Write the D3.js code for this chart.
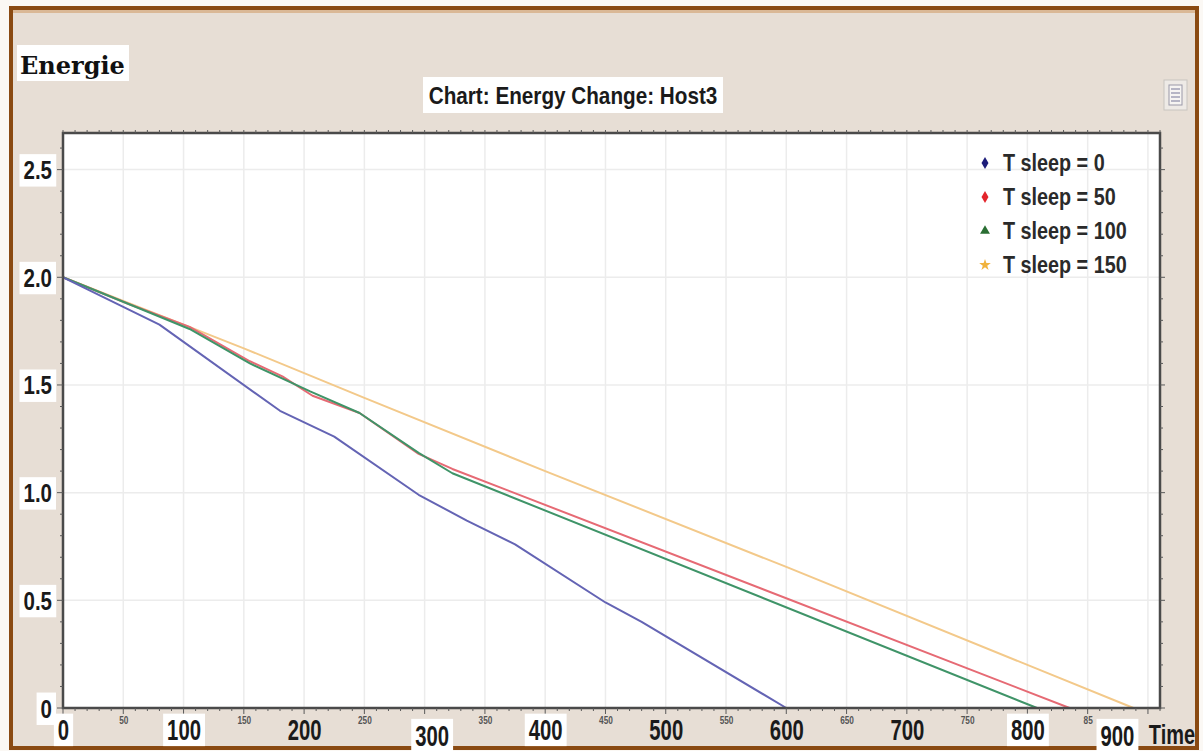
<!DOCTYPE html>
<html>
<head>
<meta charset="utf-8">
<script src="https://cdn.jsdelivr.net/npm/d3@7/dist/d3.min.js"></script>
<style>
  html, body { margin: 0; padding: 0; background: #fff; }
  svg { display: block; }
  .cond { font-family: "Liberation Sans", Arial, sans-serif; font-weight: bold; }
</style>
</head>
<body>
<svg id="chart" width="1203" height="751"></svg>
<script>
// Energy remaining per host over simulated time, one series per sleep period
const seriesNames = ["T sleep = 0", "T sleep = 50", "T sleep = 100", "T sleep = 150"];
const seriesColors = ["#6464b4", "#e66a74", "#3f9468", "#f3c98a"];
const markerColors = ["#1c1c7a", "#e3242b", "#2a6e33", "#f0b23c"];

const timeSleep0 = [0, 80, 180, 225, 295, 335, 375, 450, 480, 600];
const energySleep0 = [2.0, 1.78, 1.38, 1.26, 0.99, 0.87, 0.76, 0.49, 0.40, 0];

const timeSleep50 = [0, 55, 105, 155, 182, 207, 246, 295, 323, 835];
const energySleep50 = [2.0, 1.875, 1.77, 1.61, 1.54, 1.45, 1.37, 1.18, 1.11, 0];

const timeSleep100 = [0, 55, 105, 155, 205, 246, 295, 323, 808];
const energySleep100 = [2.0, 1.875, 1.76, 1.60, 1.47, 1.37, 1.185, 1.09, 0];

const timeSleep150 = [0, 100, 150, 250, 400, 600, 888];
const energySleep150 = [2.0, 1.78, 1.67, 1.44, 1.10, 0.655, 0];

const yTickValues = [0, 0.5, 1.0, 1.5, 2.0, 2.5];
const yTickLabels = ["0", "0.5", "1.0", "1.5", "2.0", "2.5"];
const xMajorValues = [0, 100, 200, 300, 400, 500, 600, 700, 800, 900];
const xMajorLabels = ["0", "100", "200", "300", "400", "500", "600", "700", "800", "900"];
const xMinorValues = [50, 150, 250, 350, 450, 550, 650, 750, 850];
const xMinorLabels = ["50", "150", "250", "350", "450", "550", "650", "750", "85"];

(function draw() {
  const svg = d3.select("#chart");
  const W = 1203, H = 751;
  const pL = 63, pR = 1160, pT = 133, pB = 708;

  const x = d3.scaleLinear().domain([0, 910]).range([pL, pR]);
  const y = d3.scaleLinear().domain([0, 2.67]).range([pB, pT]);

  // condensed bold text: horizontal squeeze applied around the text origin
  function condensed(sel, size, sx) {
    sel.attr("class", "cond").attr("font-size", size).attr("transform", `scale(${sx},1)`);
    return sel;
  }
  function boxBehind(g, text, sx, padX, padY, fill) {
    const b = text.node().getBBox();
    g.insert("rect", "text")
      .attr("x", b.x * sx - padX).attr("y", b.y - padY)
      .attr("width", b.width * sx + 2 * padX).attr("height", b.height + 2 * padY)
      .attr("fill", fill);
  }

  // page background and frame
  svg.append("rect").attr("width", W).attr("height", H).attr("fill", "#fbf8f4");
  svg.append("rect").attr("x", 11).attr("y", 8).attr("width", 1186).attr("height", 740)
    .attr("fill", "#e7ded5").attr("stroke", "#8a4a12").attr("stroke-width", 4);
  svg.append("rect").attr("x", 13).attr("y", 10).attr("width", 1182).attr("height", 3)
    .attr("fill", "#c98a4a").attr("opacity", 0.45);

  // "Energie" heading
  const energie = svg.append("g");
  energie.append("rect").attr("x", 17).attr("y", 45).attr("width", 112).attr("height", 36).attr("fill", "#fff");
  energie.append("text").attr("x", 20).attr("y", 74)
    .attr("font-family", "'DejaVu Serif', 'Liberation Serif', serif").attr("font-weight", "bold")
    .attr("font-size", 24).attr("fill", "#111").text("Energie");

  // chart title
  const title = svg.append("g").attr("transform", "translate(573,104)");
  title.append("rect").attr("x", -150).attr("y", -27).attr("width", 300).attr("height", 36).attr("fill", "#fff");
  condensed(title.append("text"), 23, 0.9).attr("text-anchor", "middle").attr("fill", "#1a1a1a")
    .text("Chart: Energy Change: Host3");

  // small menu icon
  const icon = svg.append("g");
  icon.append("rect").attr("x", 1164).attr("y", 80).attr("width", 23).attr("height", 30)
    .attr("fill", "#eeeae6").attr("stroke", "#c8c4c0");
  icon.append("rect").attr("x", 1169).attr("y", 85).attr("width", 13).attr("height", 20)
    .attr("fill", "#f6f4f2").attr("stroke", "#9a98a8");
  [89, 93, 97, 101].forEach(v => icon.append("line").attr("x1", 1171).attr("x2", 1180)
    .attr("y1", v).attr("y2", v).attr("stroke", "#8c8aa6").attr("stroke-width", 1.2));

  // plot area
  svg.append("rect").attr("x", pL).attr("y", pT).attr("width", pR - pL).attr("height", pB - pT)
    .attr("fill", "#fff");

  // grid
  const grid = svg.append("g");
  grid.selectAll("line.v").data(d3.range(50, 910, 50)).join("line").attr("class", "v")
    .attr("x1", d => x(d)).attr("x2", d => x(d)).attr("y1", pT).attr("y2", pB)
    .attr("stroke", "#ececec").attr("stroke-width", 1.5);
  grid.selectAll("line.h").data([0.5, 1.0, 1.5, 2.0, 2.5]).join("line").attr("class", "h")
    .attr("x1", pL).attr("x2", pR).attr("y1", d => y(d)).attr("y2", d => y(d))
    .attr("stroke", "#ececec").attr("stroke-width", 1.5);

  // series lines
  const series = [
    { t: timeSleep150, e: energySleep150, c: seriesColors[3] },
    { t: timeSleep50, e: energySleep50, c: seriesColors[1] },
    { t: timeSleep100, e: energySleep100, c: seriesColors[2] },
    { t: timeSleep0, e: energySleep0, c: seriesColors[0] }
  ];
  const line = d3.line().x(d => x(d[0])).y(d => y(d[1]));
  svg.append("g").selectAll("path").data(series).join("path")
    .attr("d", s => line(s.t.map((t, i) => [t, s.e[i]])))
    .attr("fill", "none").attr("stroke", s => s.c).attr("stroke-width", 2)
    .attr("stroke-linejoin", "round");

  // frame with fine ruler ticks
  svg.append("rect").attr("x", pL).attr("y", pT).attr("width", pR - pL).attr("height", pB - pT)
    .attr("fill", "none").attr("stroke", "#4a4a4a").attr("stroke-width", 2.5);
  const ticks = svg.append("g").attr("stroke", "#5a5a5a").attr("stroke-width", 1);
  ticks.selectAll("line.t").data(d3.range(0, 911, 10)).join("line").attr("class", "t")
    .attr("x1", d => x(d)).attr("x2", d => x(d)).attr("y1", pT - 3).attr("y2", pT);
  ticks.selectAll("line.b").data(d3.range(0, 911, 10)).join("line").attr("class", "b")
    .attr("x1", d => x(d)).attr("x2", d => x(d)).attr("y1", pB).attr("y2", d => pB + (d % 50 === 0 ? 6 : 3));
  ticks.selectAll("line.l").data(d3.range(0, 27)).join("line").attr("class", "l")
    .attr("x1", d => pL - (d % 5 === 0 ? 6 : 3)).attr("x2", pL)
    .attr("y1", d => y(d / 10)).attr("y2", d => y(d / 10));
  ticks.selectAll("line.r").data(d3.range(0, 27)).join("line").attr("class", "r")
    .attr("x1", pR).attr("x2", d => pR + (d % 5 === 0 ? 5 : 3))
    .attr("y1", d => y(d / 10)).attr("y2", d => y(d / 10));

  // y axis labels
  const ySx = 0.82;
  const yAxis = svg.append("g").attr("transform", `translate(${pL},0)`)
    .call(d3.axisLeft(y).tickValues(yTickValues).tickFormat((d, i) => yTickLabels[i]).tickSize(0));
  yAxis.select(".domain").remove();
  yAxis.selectAll(".tick").each(function () {
    const g = d3.select(this);
    const t = condensed(g.select("text"), 25, ySx).attr("fill", "#1a1a1a")
      .attr("x", -11 / ySx).attr("dy", "0.36em");
    boxBehind(g, t, ySx, 4, 2, "#fff");
  });

  // x axis: major labels
  const xSx = 0.7;
  const xAxis = svg.append("g").attr("transform", `translate(0,${pB})`)
    .call(d3.axisBottom(x).tickValues(xMajorValues).tickFormat((d, i) => xMajorLabels[i]).tickSize(0).tickPadding(12));
  xAxis.select(".domain").remove();
  const boxed = [0, 100, 300, 400, 800, 900];
  xAxis.selectAll(".tick").each(function (d) {
    const g = d3.select(this);
    const t = condensed(g.select("text"), 29, xSx).attr("fill", "#1a1a1a")
      .attr("dx", (d === 300 ? 7 : d === 900 ? -31 : 0) / xSx)
      .attr("dy", (d === 300 || d === 900) ? "0.88em" : "0.7em");
    if (boxed.includes(d)) boxBehind(g, t, xSx, 4, 0, "#fff");
  });

  // x axis: small intermediate labels
  const xMinor = svg.append("g").attr("transform", `translate(0,${pB})`)
    .call(d3.axisBottom(x).tickValues(xMinorValues).tickFormat((d, i) => xMinorLabels[i]).tickSize(0).tickPadding(8));
  xMinor.select(".domain").remove();
  xMinor.selectAll(".tick text").each(function () {
    condensed(d3.select(this), 11, 0.75).attr("fill", "#555").attr("font-weight", "normal");
  });

  // axis name
  const timeLabel = svg.append("g").attr("transform", "translate(1172,744)");
  condensed(timeLabel.append("text"), 27, 0.74).attr("text-anchor", "middle").attr("fill", "#1a1a1a").text("Time");

  // legend
  const symbols = [d3.symbolDiamond, d3.symbolDiamond, d3.symbolTriangle, d3.symbolStar];
  const legend = svg.append("g").attr("transform", "translate(985,163)");
  const entries = legend.selectAll("g").data(seriesNames).join("g")
    .attr("transform", (d, i) => `translate(0,${i * 34})`);
  entries.append("path").attr("d", (d, i) => d3.symbol().type(symbols[i]).size(42)())
    .attr("fill", (d, i) => markerColors[i]);
  entries.append("g").attr("transform", "translate(18,8)").each(function (d) {
    condensed(d3.select(this).append("text"), 23, 0.86).attr("fill", "#2a2a2a").text(d);
  });
})();
</script>
</body>
</html>
